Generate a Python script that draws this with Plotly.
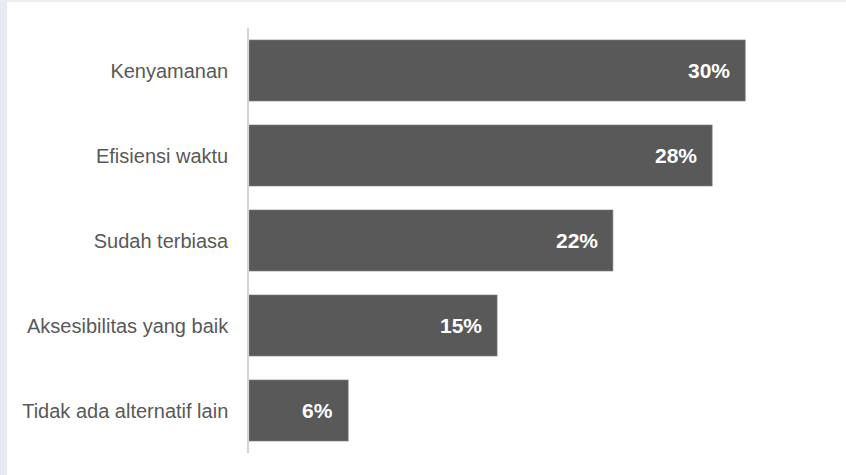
import plotly.graph_objects as go

# Survey reasons, top to bottom as listed
categories = [
    "Kenyamanan",
    "Efisiensi waktu",
    "Sudah terbiasa",
    "Aksesibilitas yang baik",
    "Tidak ada alternatif lain",
]
values = [30, 28, 22, 15, 6]
value_labels = ["30%", "28%", "22%", "15%", "6%"]

BAR = "#595959"
TEXT = "#595959"
FONT = "Liberation Sans, Arial, sans-serif"

fig = go.Figure()
fig.add_trace(go.Bar(
    x=values,
    y=categories,
    orientation="h",
    width=0.72,
    marker=dict(color=BAR, line=dict(color="#8a8a8a", width=0.6)),
    hoverinfo="skip",
))

# value labels placed inside the bar ends
for cat, v, lab in zip(categories, values, value_labels):
    fig.add_annotation(
        x=v, y=cat, text=lab, showarrow=False,
        xanchor="right", yanchor="middle", xshift=-13,
        font=dict(family=FONT, size=21, color="white", weight="bold"),
    )

W, H = 846, 475
ML, MR, MT, MB = 249, 18, 28, 22
PW, PH = W - ML - MR, H - MT - MB

fig.update_layout(
    width=W, height=H,
    margin=dict(l=ML, r=MR, t=MT, b=MB),
    paper_bgcolor="white",
    plot_bgcolor="white",
    showlegend=False,
    font=dict(family=FONT, color=TEXT, size=20),
    xaxis=dict(range=[0, 35], visible=False, fixedrange=True),
    yaxis=dict(
        categoryorder="array", categoryarray=categories[::-1],
        showline=True, linecolor="#d4d4d4", linewidth=1.5,
        showgrid=False, zeroline=False, ticks="", ticklabelstandoff=15,
        tickfont=dict(size=20, color=TEXT),
        fixedrange=True,
    ),
)

# light bluish strips along the left and top borders of the page
fig.add_shape(type="rect", xref="paper", yref="paper",
              x0=-ML / PW, x1=-(ML - 7) / PW, y0=-MB / PH, y1=1 + MT / PH,
              line_width=0, fillcolor="#e8ebf3", layer="below")
fig.add_shape(type="rect", xref="paper", yref="paper",
              x0=-ML / PW, x1=1 + MR / PW, y0=1 + (MT - 2) / PH, y1=1 + MT / PH,
              line_width=0, fillcolor="#eceef4", layer="below")

fig.write_html("out.html", config={"displayModeBar": False})
